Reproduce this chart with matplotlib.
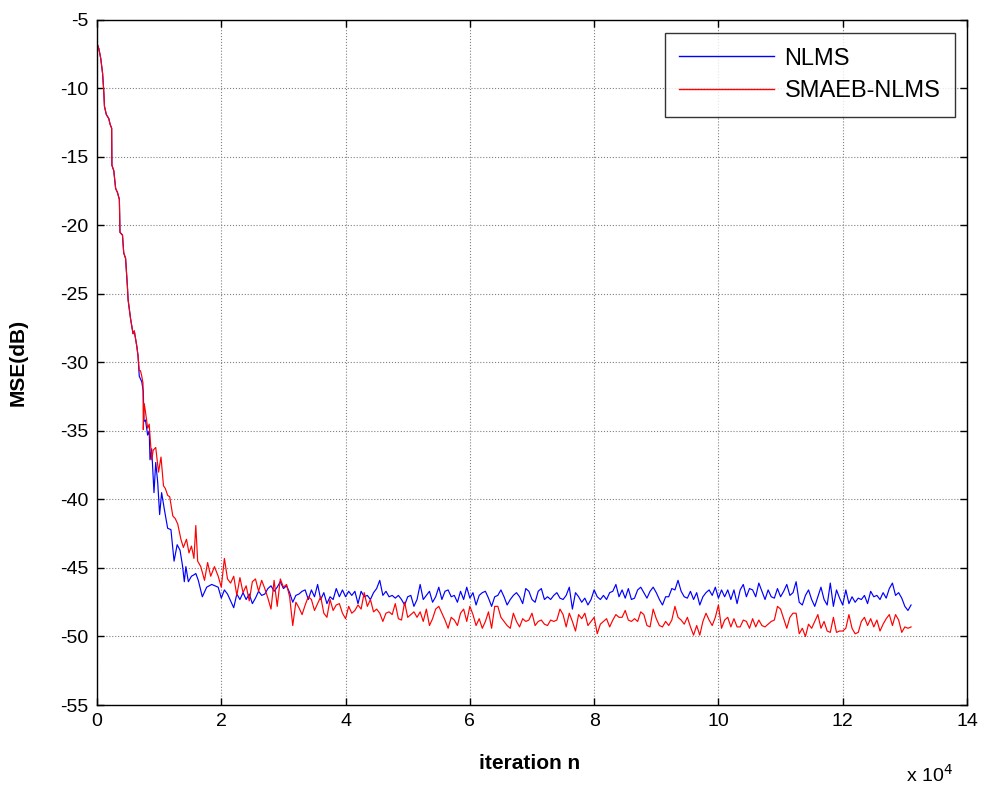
import numpy as np
import matplotlib
matplotlib.use("Agg")
import matplotlib.pyplot as plt

# ---------------- data (x in units of 10^4 iterations, MSE in dB) ----------------
# transient part
x_tr_nlms = [0.00, 0.03, 0.06, 0.09, 0.11, 0.12, 0.15, 0.19, 0.21, 0.236, 0.24, 0.27, 0.30, 0.33,
             0.36, 0.37, 0.41, 0.43, 0.46, 0.49, 0.50, 0.54, 0.58, 0.60, 0.64, 0.66, 0.68, 0.70,
             0.72, 0.745, 0.756, 0.78, 0.815, 0.84, 0.853, 0.88, 0.917, 0.945, 0.976, 1.008, 1.04,
             1.083, 1.137, 1.19, 1.24, 1.29, 1.336, 1.375, 1.405, 1.43, 1.47, 1.52, 1.56, 1.59,
             1.63, 1.695, 1.765, 1.846, 1.90, 1.95, 2.00]
y_tr_nlms = [-6.7, -7.1, -7.8, -8.9, -10.3, -11.3, -11.9, -12.2, -12.6, -12.9, -15.6, -16.0, -17.3, -17.6,
             -18.1, -20.5, -20.7, -22.0, -22.4, -24.5, -25.4, -26.8, -27.9, -27.7, -28.8, -29.5, -31.0, -31.2,
             -31.4, -32.1, -34.3, -34.2, -35.3, -35.0, -37.1, -36.3, -39.5, -37.3, -38.7, -41.1, -39.5,
             -40.7, -42.1, -42.2, -44.5, -43.3, -43.7, -44.8, -46.0, -44.9, -46.0, -45.6, -45.5, -45.4,
             -45.9, -47.1, -46.4, -46.2, -46.3, -46.4, -47.2]

x_tr_smaeb = [0.00, 0.03, 0.06, 0.09, 0.11, 0.12, 0.15, 0.19, 0.21, 0.236, 0.24, 0.27, 0.30, 0.33,
              0.36, 0.37, 0.41, 0.43, 0.46, 0.49, 0.50, 0.54, 0.58, 0.60, 0.64, 0.66, 0.68, 0.70,
              0.72, 0.74, 0.745, 0.76, 0.78, 0.815, 0.84, 0.88, 0.905, 0.945, 0.99, 1.03, 1.07,
              1.10, 1.137, 1.17, 1.22, 1.26, 1.30, 1.35, 1.39, 1.44, 1.48, 1.52, 1.56, 1.59, 1.62,
              1.67, 1.73, 1.78, 1.83, 1.89, 1.95, 2.00]
y_tr_smaeb = [-6.7, -7.1, -7.8, -8.9, -10.3, -11.3, -11.9, -12.2, -12.6, -12.9, -15.6, -16.0, -17.3, -17.6,
              -18.1, -20.5, -20.7, -22.0, -22.4, -24.5, -25.4, -26.8, -27.9, -27.7, -28.8, -29.5, -30.6, -30.6,
              -31.0, -31.5, -34.9, -33.0, -33.6, -34.8, -34.5, -37.1, -36.4, -36.2, -38.0, -36.9, -39.0,
              -39.2, -39.7, -39.8, -41.2, -41.4, -41.8, -42.9, -43.5, -42.9, -43.9, -43.4, -44.3, -41.9, -44.5,
              -44.9, -45.9, -44.6, -45.6, -44.9, -45.6, -46.4]

# steady-state part, one value every 0.05 x 10^4 iterations from 2.05 to 13.10
ss_start, ss_step = 2.05, 0.05
ss_nlms = [
    -46.6, -46.9, -47.4, -47.9, -46.9, -47.3, -46.8, -47.3, -46.9, -47.6, -47.2, -46.7, -47.0, -46.9,
    -46.5, -46.3, -46.7, -46.4, -46.0, -46.5, -46.3, -46.8, -47.5, -47.0, -46.9,
    -46.7, -46.6, -47.3, -46.6, -47.1, -46.2, -47.3, -46.8, -47.6, -47.1, -47.3, -46.5, -47.1, -46.6,
    -47.1, -46.7, -47.0, -46.7, -47.6, -46.7, -47.1, -47.0, -47.3, -46.8, -46.5, -45.9, -47.0, -46.7,
    -47.1, -47.0, -47.2, -47.0, -47.3, -47.7, -47.1, -47.0, -47.8, -47.3, -46.2, -47.3, -47.0, -46.7,
    -47.5, -47.1, -46.4, -47.3, -46.7, -46.6, -47.1, -47.0, -47.5, -46.7, -47.3, -46.4, -47.2, -46.8,
    -47.7, -47.0, -46.8, -46.7, -47.2, -47.8, -47.1, -47.0,
    -46.6, -47.1, -47.7, -47.3, -47.0, -46.8, -47.1, -47.6, -46.5, -46.7, -47.3, -47.5, -46.7, -46.5,
    -47.3, -47.1, -47.3, -47.0, -46.8, -47.2, -47.3, -47.0, -46.4, -48.0, -46.8, -47.1, -47.5, -47.2,
    -47.7, -47.3, -46.6, -47.1, -47.3, -47.0, -47.3, -46.8, -46.7, -46.2, -47.1, -46.6, -47.2, -46.5,
    -47.3, -47.2, -46.6, -46.4, -46.8, -47.2, -46.7, -46.4, -46.8, -47.3, -47.7, -47.1, -47.1, -46.5,
    -46.6, -45.9, -46.7, -47.1, -47.2, -46.7, -47.3, -46.8, -47.7, -47.1, -46.8, -46.6,
    -47.0, -46.4, -47.2, -46.6, -47.1, -46.6, -47.3, -46.6, -47.6, -46.6, -46.2, -47.1, -46.5, -46.6,
    -47.1, -46.1, -46.7, -47.3, -46.6, -47.1, -47.2, -46.5, -47.1, -46.7, -46.2, -47.0, -46.8, -46.0,
    -47.5, -47.7, -47.0, -46.6, -47.3, -47.8, -47.1, -46.4, -47.3, -47.7, -46.1, -47.8, -46.6, -47.2,
    -47.7, -46.6, -47.6, -47.1, -47.5, -47.2, -47.3, -47.0, -47.6, -46.7, -47.1, -47.0, -47.3, -46.8,
    -47.2, -46.5, -46.1, -47.0, -46.8, -47.2, -47.8, -48.1, -47.7]
ss_smaeb = [
    -44.3, -45.8, -46.1, -45.6, -47.0, -45.7, -46.8, -46.3, -47.4, -46.0, -45.8, -46.7, -45.9, -46.5,
    -47.2, -48.0, -45.9, -47.8, -45.8, -46.4, -46.2, -47.1, -49.2, -47.5, -47.9,
    -48.4, -47.7, -47.1, -47.3, -48.1, -47.6, -47.1, -48.3, -48.6, -47.3, -48.1, -47.7, -47.6, -48.3,
    -48.7, -47.8, -48.3, -48.1, -47.7, -48.0, -46.8, -47.8, -47.3, -48.2, -48.0, -48.3, -48.9, -48.3,
    -48.2, -48.4, -47.6, -48.7, -48.8, -47.5, -48.6, -48.4, -48.2, -48.6, -48.2, -48.9, -48.0, -49.2,
    -48.7, -48.0, -47.8, -48.3, -48.8, -49.4, -48.6, -48.8, -49.2, -48.3, -48.0, -48.9, -47.8, -48.4,
    -49.2, -48.7, -49.4, -48.9, -48.2, -49.4, -47.8, -47.8,
    -48.6, -48.9, -49.2, -49.4, -48.3, -48.9, -49.3, -48.7, -48.9, -48.8, -48.3, -49.2, -48.9, -48.8,
    -49.1, -49.2, -48.8, -48.9, -48.8, -48.0, -48.4, -49.3, -48.3, -48.9, -49.6, -48.4, -48.7, -48.3,
    -49.2, -48.9, -48.6, -49.8, -49.1, -48.9, -48.7, -49.3, -48.8, -48.4, -48.6, -48.6, -48.1, -48.8,
    -48.9, -48.7, -48.9, -48.2, -48.4, -49.2, -49.3, -48.0, -48.7, -49.2, -49.3, -48.9, -49.2, -48.8,
    -47.8, -48.6, -48.8, -49.1, -48.6, -49.3, -49.9, -49.2, -49.9, -48.9, -48.3, -48.8,
    -49.2, -48.6, -47.7, -49.4, -48.8, -48.6, -49.3, -48.7, -49.3, -49.3, -48.8, -48.9, -49.4, -48.7,
    -49.3, -48.8, -49.2, -49.3, -49.1, -48.9, -48.8, -47.8, -48.0, -48.7, -49.4, -48.6, -48.3, -48.3,
    -49.8, -49.4, -50.0, -49.1, -49.4, -48.9, -48.4, -49.4, -48.9, -49.6, -49.7, -48.6, -49.7, -49.6,
    -49.6, -49.4, -48.4, -49.4, -49.8, -49.7, -48.9, -48.6, -49.2, -48.7, -49.3, -48.8, -49.6, -49.1,
    -48.7, -48.4, -49.2, -48.4, -48.8, -49.7, -49.3, -49.4, -49.3]

series_labels = ["NLMS", "SMAEB-NLMS"]
x_ticks = [0, 2, 4, 6, 8, 10, 12, 14]
y_ticks = [-55, -50, -45, -40, -35, -30, -25, -20, -15, -10, -5]

# ---------------- build full series ----------------
x_ss = ss_start + ss_step * np.arange(len(ss_nlms))
x_nlms = np.concatenate([x_tr_nlms, x_ss])
y_nlms = np.concatenate([y_tr_nlms, ss_nlms])
x_ss2 = ss_start + ss_step * np.arange(len(ss_smaeb))
x_smaeb = np.concatenate([x_tr_smaeb, x_ss2])
y_smaeb = np.concatenate([y_tr_smaeb, ss_smaeb])

plt.rcParams['font.family'] = ['Liberation Sans', 'DejaVu Sans']

W, H = 984, 787
fig = plt.figure(figsize=(W / 100, H / 100), dpi=100)
L, R, T, B = 97, 967, 20, 705
ax = fig.add_axes([L / W, 1 - B / H, (R - L) / W, (B - T) / H])

ax.plot(x_nlms, y_nlms, color='#0000ff', lw=0.85, label=series_labels[0])
ax.plot(x_smaeb, y_smaeb, color='#ff0000', lw=0.85, label=series_labels[1])

ax.set_xlim(0, 14)
ax.set_ylim(-55, -5)
ax.set_xticks(x_ticks)
ax.set_yticks(y_ticks)
ax.set_xticklabels([str(v) for v in x_ticks])
ax.set_yticklabels([str(v) for v in y_ticks])
ax.tick_params(direction='in', length=5, width=1, top=True, right=True,
               labelsize=14, pad=6, colors='black')
ax.grid(True, color='0.5', linestyle=':', linewidth=0.8)
for s in ax.spines.values():
    s.set_linewidth(1.0)
    s.set_color('black')

ax.set_xlabel('iteration n', fontsize=15, fontweight='bold')
ax.set_ylabel('MSE(dB)', fontsize=15, fontweight='bold')
ax.xaxis.set_label_coords(0.497, -0.072)
ax.yaxis.set_label_coords(-0.080, 0.5)

fig.text(906 / W, 1 - 775 / H, r'x 10$^{4}$', fontsize=14, ha='left', va='center')

leg = ax.legend(loc='upper right', bbox_to_anchor=((955 - L) / (R - L), 1 - (33 - T) / (B - T)),
                fontsize=17, frameon=True, fancybox=False, edgecolor='black',
                handlelength=4.0, handletextpad=0.45, borderpad=0.62, labelspacing=0.45,
                borderaxespad=0)
leg.get_frame().set_linewidth(1.0)
for line in leg.get_lines():
    line.set_linewidth(1.0)

fig.savefig('out.png', dpi=100, facecolor='white')
